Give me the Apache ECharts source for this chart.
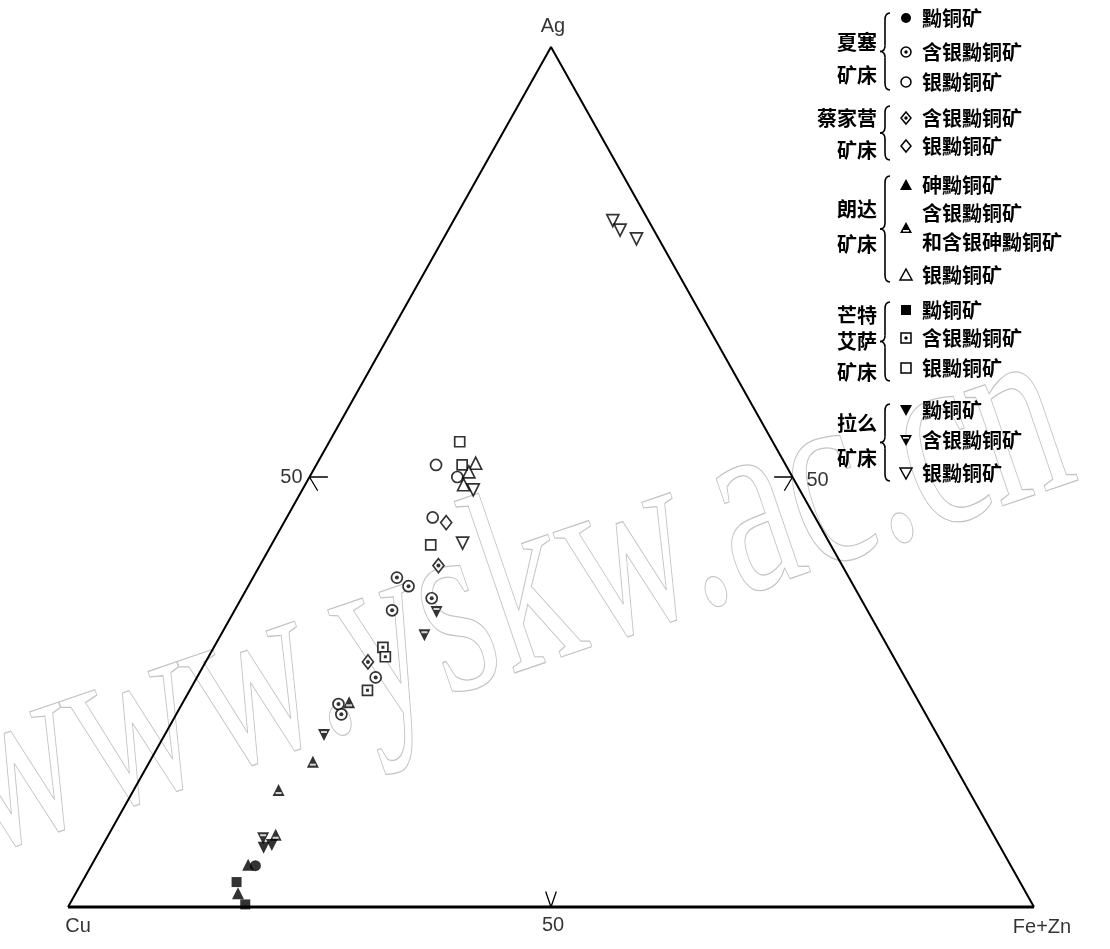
<!DOCTYPE html>
<html>
<head>
<meta charset="utf-8">
<title>Cu-Ag-(Fe+Zn) 三角图</title>
<script src="https://cdn.jsdelivr.net/npm/echarts@6/dist/echarts.min.js"></script>
<style>
html,body{margin:0;padding:0;background:#fff;}
#main{width:1110px;height:949px;}
</style>
</head>
<body>
<div id="main"></div>
<script>
// 每个点为 [Cu, Ag, Fe+Zn] (%)
var xiasai_td = [[78.2, 4.8, 17.0]];
var xiasai_agTd = [[46.8, 38.3, 14.9], [46.1, 37.3, 16.6], [44.4, 35.9, 19.7], [49.2, 34.5, 16.3], [54.8, 26.7, 18.5], [60.2, 23.6, 16.2], [60.5, 22.4, 17.1]];
var xiasai_frei = [[36.2, 51.4, 12.4], [34.7, 50.0, 15.3], [39.6, 45.3, 15.1]];
var caijiaying_agTd = [[41.8, 39.7, 18.5], [54.7, 28.5, 16.8]];
var caijiaying_frei = [[38.5, 44.7, 16.8]];
var langda_tn = [[78.9, 4.9, 16.2], [81.6, 1.6, 16.8]];
var langda_agTd = [[59.0, 23.8, 17.2], [66.2, 16.9, 16.9], [71.4, 13.6, 15.0], [74.3, 8.4, 17.3]];
var langda_frei = [[32.0, 51.6, 16.4], [33.2, 50.6, 16.2], [34.5, 49.1, 16.4]];
var mountisa_td = [[81.1, 2.9, 16.0], [81.5, 0.3, 18.2]];
var mountisa_agTd = [[52.3, 30.2, 17.5], [52.6, 29.1, 18.3], [56.4, 25.2, 18.4]];
var mountisa_frei = [[32.4, 54.1, 13.5], [33.5, 51.4, 15.1], [41.4, 42.1, 16.5]];
var lame_td = [[76.3, 6.9, 16.8], [75.3, 7.2, 17.5]];
var lame_agTd = [[44.7, 34.3, 21.0], [47.3, 31.6, 21.1], [63.5, 20.0, 16.5], [75.8, 8.0, 16.2]];
var lame_frei = [[33.8, 48.5, 17.7], [38.0, 42.3, 19.7], [3.7, 79.8, 16.5], [3.5, 78.7, 17.8], [2.3, 77.7, 20.0]];

// 端元名称和刻度
var vertexNames = ['Cu', 'Ag', 'Fe+Zn'];
var tickValue = 50;

var groups = [
	{deposit: ['夏塞', '矿床'], items: [
		{name: '黝铜矿', shape: 'circle', fill: true, data: xiasai_td},
		{name: '含银黝铜矿', shape: 'circle', mark: 'dot', data: xiasai_agTd},
		{name: '银黝铜矿', shape: 'circle', data: xiasai_frei}
	]},
	{deposit: ['蔡家营', '矿床'], items: [
		{name: '含银黝铜矿', shape: 'diamond', mark: 'dot', data: caijiaying_agTd},
		{name: '银黝铜矿', shape: 'diamond', data: caijiaying_frei}
	]},
	{deposit: ['朗达', '矿床'], items: [
		{name: '砷黝铜矿', shape: 'triangle', fill: true, data: langda_tn},
		{name: '含银黝铜矿\n和含银砷黝铜矿', shape: 'triangle', fill: true, mark: 'bar', data: langda_agTd},
		{name: '银黝铜矿', shape: 'triangle', data: langda_frei}
	]},
	{deposit: ['芒特', '艾萨', '矿床'], items: [
		{name: '黝铜矿', shape: 'rect', fill: true, data: mountisa_td},
		{name: '含银黝铜矿', shape: 'rect', mark: 'dot', data: mountisa_agTd},
		{name: '银黝铜矿', shape: 'rect', data: mountisa_frei}
	]},
	{deposit: ['拉么', '矿床'], items: [
		{name: '黝铜矿', shape: 'invTriangle', fill: true, data: lame_td},
		{name: '含银黝铜矿', shape: 'invTriangle', fill: true, mark: 'bar', data: lame_agTd},
		{name: '银黝铜矿', shape: 'invTriangle', data: lame_frei}
	]}
];

// 图例位置 (像素)
var legendLayout = [
	{nameY: [42, 75], brace: [13, 90], rowY: [18, 52, 82]},
	{nameY: [118, 150], brace: [106, 160], rowY: [118, 146]},
	{nameY: [209, 244], brace: [176, 282], rowY: [185, 228, 275]},
	{nameY: [315, 341, 372], brace: [302, 381], rowY: [310, 338, 368]},
	{nameY: [423, 458], brace: [404, 481], rowY: [410, 440, 473]}
];

// 三元坐标 -> 直角坐标
function tern(p){
	var s = p[0] + p[1] + p[2];
	var ag = p[1] / s * 100, fz = p[2] / s * 100;
	return [fz + ag / 2, ag];
}

var cjk = '"Noto Sans CJK SC", sans-serif';
var latin = '"Liberation Sans", Arial, sans-serif';

var symbolOf = {circle: 'circle', rect: 'rect', diamond: 'diamond', triangle: 'triangle', invTriangle: 'triangle'};
var sizeOf = {circle: 11, rect: 10, diamond: [11, 14], triangle: 12, invTriangle: 12};

var series = [];
var vCu = tern([100, 0, 0]), vAg = tern([0, 100, 0]), vFz = tern([0, 0, 100]);

//三角形边框
series.push({type: 'line', data: [vCu, vAg, vFz], symbol: 'none', clip: false, silent: true,
	lineStyle: {color: '#000', width: 2}});
series.push({type: 'line', data: [vCu, vFz], symbol: 'none', clip: false, silent: true,
	lineStyle: {color: '#000', width: 3}});

//50 刻度
var mL = tern([tickValue, tickValue, 0]), mR = tern([0, tickValue, tickValue]), mB = tern([tickValue, 0, tickValue]);
[
	[[mL[0] + 1.9, mL[1]], mL, [mL[0] + 0.85, mL[1] - 1.6]],
	[[mR[0] - 1.9, mR[1]], mR, [mR[0] - 0.85, mR[1] - 1.6]],
	[[mB[0] - 0.55, mB[1] + 1.8], mB, [mB[0] + 0.55, mB[1] + 1.8]]
].forEach(function(d){
	series.push({type: 'line', data: d, symbol: 'none', clip: false, silent: true,
		lineStyle: {color: '#000', width: 1.3}});
});

//端元和刻度标签
function lbl(pos, text, position, offset){
	return {value: pos, label: {show: true, formatter: text, position: position, offset: offset,
		color: '#000', fontSize: 20, fontFamily: latin}};
}
series.push({type: 'scatter', symbolSize: 0, clip: false, silent: true, data: [
	lbl(vCu, vertexNames[0], 'bottom', [10, 4]),
	lbl(vAg, vertexNames[1], 'top', [2, -6]),
	lbl(vFz, vertexNames[2], 'bottom', [8, 5]),
	lbl(mL, String(tickValue), 'left', [-2, 0]),
	lbl(mR, String(tickValue), 'right', [9, 3]),
	lbl(mB, String(tickValue), 'bottom', [2, 3])
]});

//数据点
groups.forEach(function(g){
	g.items.forEach(function(it){
		var xy = it.data.map(tern);
		series.push({
			name: g.deposit.join('') + it.name,
			type: 'scatter',
			data: xy,
			symbol: symbolOf[it.shape],
			symbolSize: sizeOf[it.shape],
			symbolRotate: it.shape == 'invTriangle' ? 180 : 0,
			itemStyle: it.fill ? {color: '#000'} : {color: '#fff', borderColor: '#000', borderWidth: 1.7}
		});
		if(it.mark == 'dot'){
			series.push({type: 'scatter', data: xy, symbol: it.shape == 'rect' ? 'rect' : 'circle',
				symbolSize: it.shape == 'rect' ? 3 : 4, itemStyle: {color: '#000'}, silent: true});
		}
		if(it.mark == 'bar'){
			series.push({type: 'scatter', data: xy, symbol: 'rect', symbolSize: [6, 2],
				symbolOffset: [0, it.shape == 'invTriangle' ? -3 : 3], itemStyle: {color: '#fff'}, silent: true});
		}
	});
});

//图例
function legendMarker(it, cx, cy){
	var st = it.fill ? {fill: '#000'} : {fill: '#fff', stroke: '#000', lineWidth: 1.5};
	var els = [];
	if(it.shape == 'circle') els.push({type: 'circle', shape: {cx: cx, cy: cy, r: 5}, style: st});
	if(it.shape == 'rect') els.push({type: 'rect', shape: {x: cx - 5, y: cy - 5, width: 10, height: 10}, style: st});
	if(it.shape == 'diamond') els.push({type: 'polygon', shape: {points: [[cx, cy - 6], [cx + 5, cy], [cx, cy + 6], [cx - 5, cy]]}, style: st});
	if(it.shape == 'triangle') els.push({type: 'polygon', shape: {points: [[cx, cy - 6], [cx + 6, cy + 5], [cx - 6, cy + 5]]}, style: st});
	if(it.shape == 'invTriangle') els.push({type: 'polygon', shape: {points: [[cx - 6, cy - 5], [cx + 6, cy - 5], [cx, cy + 6]]}, style: st});
	if(it.mark == 'dot') els.push({type: 'circle', shape: {cx: cx, cy: cy, r: 1.7}, style: {fill: '#000'}});
	if(it.mark == 'bar'){
		var by = it.shape == 'invTriangle' ? cy - 3 : cy + 2;
		els.push({type: 'rect', shape: {x: cx - 3, y: by, width: 6, height: 1.6}, style: {fill: '#fff'}});
	}
	return els;
}

function brace(x, top, bottom){
	var m = (top + bottom) / 2;
	var st = {stroke: '#000', lineWidth: 1.6, fill: null};
	return [
		{type: 'bezierCurve', shape: {x1: x + 6, y1: top, x2: x + 1, y2: top + 7, cpx1: x + 1, cpy1: top}, style: st},
		{type: 'line', shape: {x1: x + 1, y1: top + 7, x2: x + 1, y2: m - 6}, style: st},
		{type: 'bezierCurve', shape: {x1: x + 1, y1: m - 6, x2: x - 4, y2: m, cpx1: x + 1, cpy1: m}, style: st},
		{type: 'bezierCurve', shape: {x1: x - 4, y1: m, x2: x + 1, y2: m + 6, cpx1: x + 1, cpy1: m}, style: st},
		{type: 'line', shape: {x1: x + 1, y1: m + 6, x2: x + 1, y2: bottom - 7}, style: st},
		{type: 'bezierCurve', shape: {x1: x + 1, y1: bottom - 7, x2: x + 6, y2: bottom, cpx1: x + 1, cpy1: bottom}, style: st}
	];
}

function txt(text, x, y, align, font, lh){
	return {type: 'text', style: {text: text, x: x, y: y, fill: '#000', font: font,
		align: align, textAlign: align, verticalAlign: 'middle', textVerticalAlign: 'middle', lineHeight: lh || 22}};
}

var graphic = [];
//水印
graphic.push({type: 'text', x: 0, y: 915, rotation: 0.33, scaleX: 0.66, z: -10, silent: true,
	style: {text: 'www.yskw.ac.cn', font: '262px "Liberation Serif", serif', fill: 'rgba(0,0,0,0)',
		stroke: '#c4c4c4', lineWidth: 1.3, verticalAlign: 'bottom', textVerticalAlign: 'bottom'}});

groups.forEach(function(g, gi){
	var lay = legendLayout[gi];
	g.deposit.forEach(function(n, i){
		graphic.push(txt(n, 877, lay.nameY[i], 'right', 'bold 20px ' + cjk));
	});
	graphic = graphic.concat(brace(884, lay.brace[0], lay.brace[1]));
	g.items.forEach(function(it, i){
		var y = lay.rowY[i];
		graphic = graphic.concat(legendMarker(it, 906, y));
		graphic.push(txt(it.name, 922, y, 'left', 'bold 20px ' + cjk, 29));
	});
});

var myChart = echarts.init(document.getElementById('main'));
myChart.setOption({
	animation: false,
	backgroundColor: '#fff',
	grid: {left: 68, right: 76, top: 47, bottom: 42},
	xAxis: {type: 'value', min: 0, max: 100, show: false},
	yAxis: {type: 'value', min: 0, max: 100, show: false},
	graphic: graphic,
	series: series
});
</script>
</body>
</html>
